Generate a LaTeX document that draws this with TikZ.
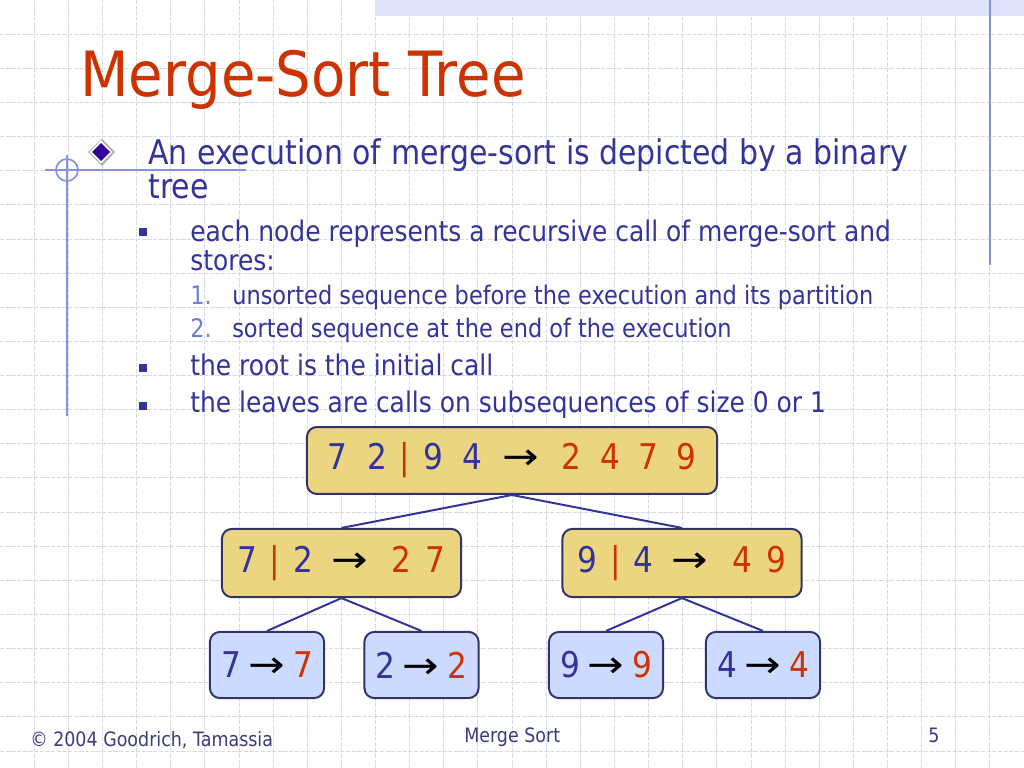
\documentclass[tikz,border=0pt]{standalone}
\usepackage{fontspec}
\setmainfont{DejaVu Sans}[FakeStretch=0.88]
\newfontfamily\titlefamily{DejaVu Sans}[FakeStretch=0.9]
\usetikzlibrary{positioning}
\definecolor{SlideBlue}{RGB}{51,51,153}
\definecolor{TitleRed}{RGB}{204,51,0}
\definecolor{GridLine}{RGB}{214,218,232}
\definecolor{RuleBlue}{RGB}{135,145,225}
\definecolor{BandBlue}{RGB}{220,227,248}
\definecolor{NumBlue}{RGB}{110,125,215}
\definecolor{CallYellow}{RGB}{235,213,128}
\definecolor{LeafBlue}{RGB}{205,218,255}
\definecolor{BoxEdge}{RGB}{51,51,102}
\definecolor{DiamondPurple}{RGB}{51,0,153}
\definecolor{FootBlue}{RGB}{60,60,120}
\newcommand{\fs}[1]{\fontsize{#1}{#1}\selectfont}
\newcommand{\srt}[1]{\textcolor{TitleRed}{#1}}
\newcommand{\pbar}{\textcolor{TitleRed}{|}}
\newcommand{\goesto}{\textcolor{black}{\scalebox{1.4}[1.05]{→}}}
\tikzset{
  gridline/.style={draw=GridLine,line width=0.6pt,dash pattern=on 3pt off 1pt},
  rule/.style={draw=RuleBlue,line width=1.2pt},
  slidetext/.style={anchor=base west,inner sep=0pt,text=SlideBlue},
  sqbullet/.style={fill=SlideBlue,minimum size=5.5pt,inner sep=0pt},
  callbox/.style={draw=BoxEdge,fill=CallYellow,line width=1.4pt,rounded corners=7pt,
    text=SlideBlue,font=\fs{25},inner sep=0pt},
  leafbox/.style={callbox,fill=LeafBlue,minimum width=2.83cm,minimum height=1.64cm},
  treeedge/.style={draw=SlideBlue,line width=1.4pt}
}

\begin{document}
\begin{tikzpicture}[x=0.0248cm,y=-0.0248cm]
  \useasboundingbox (0,0) rectangle (1024,768);
  \fill[white] (0,0) rectangle (1024,768);
  % background grid
  \foreach \k in {1,...,29}
    \draw[gridline] ({\k*34.133},0) -- ({\k*34.133},768);
  \foreach \k in {1,...,22}
    \draw[gridline] (0,{\k*34.133}) -- (1024,{\k*34.133});
  \fill[BandBlue] (375,0) rectangle (1024,16);
  \draw[rule] (990,0) -- (990,265);
  \draw[rule] (67,155) -- (67,416);
  \draw[rule] (45,170) -- (246,170);
  \draw[rule] (67,170) circle (11);

  % title and bullets
  \node[slidetext,text=TitleRed,font=\titlefamily\fs{44}] (title) at (80,97) {Merge-Sort Tree};
  \fill[gray!65] (102,139) -- (115,152) -- (102,166) -- (88,152) -- cycle;
  \fill[white] (101,140.5) -- (112.5,152) -- (101,163.5) -- (89.5,152) -- cycle;
  \fill[DiamondPurple] (101,143) -- (110,152) -- (101,161) -- (92,152) -- cycle;
  \node[slidetext,font=\fs{24}] (exec) at (148,164) {An execution of merge-sort is depicted by a binary};
  \node[slidetext,font=\fs{24}] (exec2) at (148,198) {tree};
  \node[sqbullet] (b1) at (143,232) {};
  \node[slidetext,font=\fs{20}] (stores) at (190,241) {each node represents a recursive call of merge-sort and};
  \node[slidetext,font=\fs{20}] (stores2) at (190,270) {stores:};
  \node[slidetext,text=NumBlue,font=\fs{18}] (n1) at (190,304) {1.};
  \node[slidetext,font=\fs{18}] (unsorted) at (232,304) {unsorted sequence before the execution and its partition};
  \node[slidetext,text=NumBlue,font=\fs{18}] (n2) at (190,337) {2.};
  \node[slidetext,font=\fs{18}] (sorted) at (232,337) {sorted sequence at the end of the execution};
  \node[sqbullet] (b2) at (143,368) {};
  \node[slidetext,font=\fs{20}] (rootcall) at (190,375) {the root is the initial call};
  \node[sqbullet] (b3) at (143,406) {};
  \node[slidetext,font=\fs{20}] (leafcall) at (190,412) {the leaves are calls on subsequences of size 0 or 1};

  % merge-sort tree
  \node[callbox,minimum width=10.17cm,minimum height=1.66cm] (root) at (512,460.5)
    {7\hspace{14pt}2\hspace{9pt}\pbar\hspace{9pt}9\hspace{14pt}4\hspace{14pt}\goesto\hspace{16pt}\srt{2\hspace{13pt}4\hspace{13pt}7\hspace{13pt}9}};
  \node[callbox,minimum width=5.93cm,minimum height=1.69cm] (left) at (341.5,563)
    {7\hspace{9pt}\pbar\hspace{9pt}2\hspace{13pt}\goesto\hspace{17pt}\srt{2\hspace{10pt}7}};
  \node[callbox,minimum width=5.93cm,minimum height=1.69cm] (right) at (682,563)
    {9\hspace{9pt}\pbar\hspace{9pt}4\hspace{13pt}\goesto\hspace{17pt}\srt{4\hspace{10pt}9}};
  \node[leafbox] (ll) at (267,665) {7\hspace{5pt}\goesto\hspace{6pt}\srt{7}};
  \node[leafbox] (lr) at (421.5,665) {2\hspace{5pt}\goesto\hspace{6pt}\srt{2}};
  \node[leafbox] (rl) at (606,665) {9\hspace{5pt}\goesto\hspace{6pt}\srt{9}};
  \node[leafbox] (rr) at (763,665) {4\hspace{5pt}\goesto\hspace{6pt}\srt{4}};
  \draw[treeedge] (root.south) -- (left.north);
  \draw[treeedge] (root.south) -- (right.north);
  \draw[treeedge] (left.south) -- (ll.north);
  \draw[treeedge] (left.south) -- (lr.north);
  \draw[treeedge] (right.south) -- (rl.north);
  \draw[treeedge] (right.south) -- (rr.north);

  % footer
  \node[slidetext,text=FootBlue,font=\fs{14}] (copy) at (30,746) {© 2004 Goodrich, Tamassia};
  \node[slidetext,text=FootBlue,font=\fs{14}] (course) at (464,742) {Merge Sort};
  \node[slidetext,text=FootBlue,font=\fs{14}] (page) at (928,742) {5};
\end{tikzpicture}
\end{document}
